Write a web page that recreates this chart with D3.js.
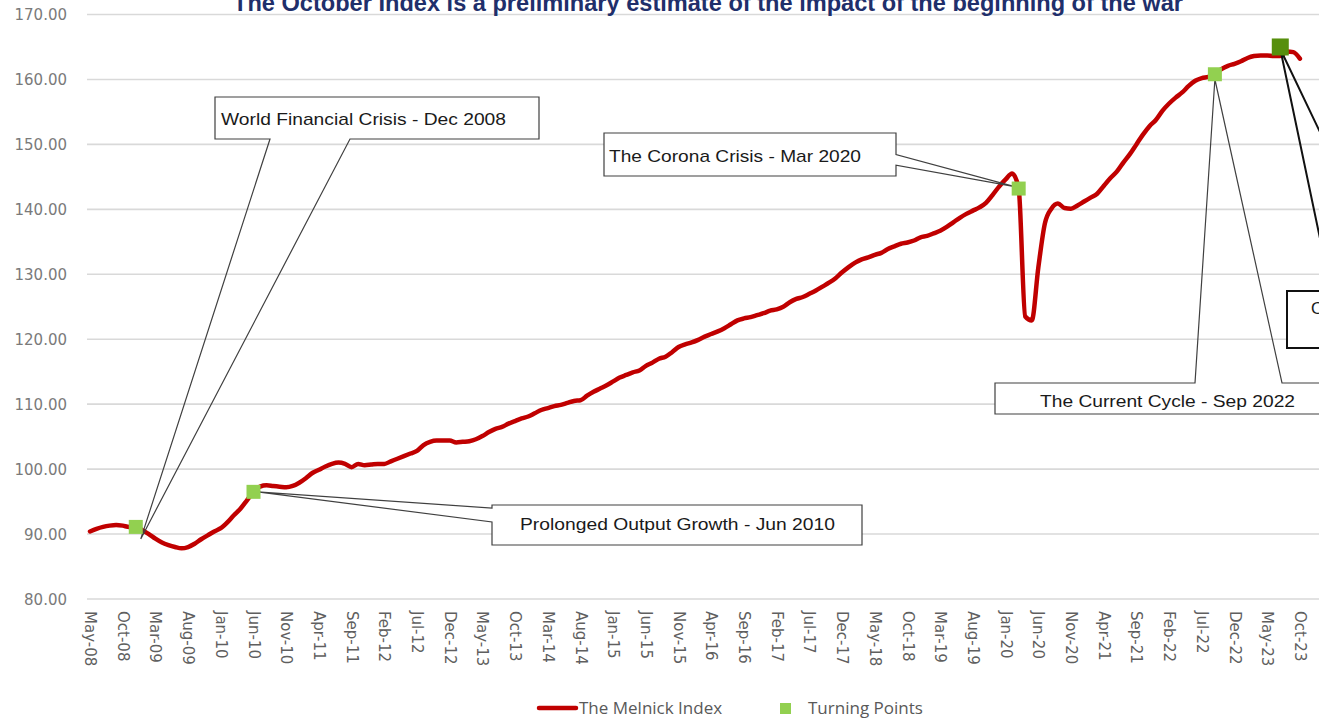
<!DOCTYPE html>
<html>
<head>
<meta charset="utf-8">
<script src="https://cdn.jsdelivr.net/npm/d3@7"></script>
<style>
  html, body { margin: 0; padding: 0; background: #ffffff; overflow: hidden; }
  svg { display: block; }
</style>
</head>
<body>
<svg id="chart" width="1319" height="720"></svg>
<script>
// ---------------- DATA ----------------
const titleText = "The October Index is a preliminary estimate of the impact of the beginning of the war";

// Monthly index values, May-08 ... Oct-23 (186 months)
const melnickIndex = [
  90.4, 90.8, 91.1, 91.3, 91.4, 91.3, 91.1, 91.1, 90.6, 90.0,
  89.3, 88.7, 88.3, 88.0, 87.8, 88.0, 88.5, 89.2, 89.8, 90.4,
  90.9, 91.8, 92.9, 93.9, 95.2, 96.5, 97.3, 97.5, 97.4, 97.3,
  97.2, 97.4, 97.9, 98.6, 99.4, 99.9, 100.4, 100.8, 101.0, 100.8,
  100.3, 100.8, 100.6, 100.7, 100.8, 100.8, 101.2, 101.6, 102.0, 102.4,
  102.8, 103.7, 104.2, 104.4, 104.4, 104.4, 104.1, 104.2, 104.3, 104.6,
  105.1, 105.7, 106.2, 106.5, 107.0, 107.4, 107.8, 108.1, 108.6, 109.1,
  109.4, 109.7, 109.9, 110.2, 110.5, 110.6, 111.3, 111.9, 112.4, 112.9,
  113.5, 114.1, 114.5, 114.9, 115.2, 115.9, 116.4, 117.0, 117.3, 118.0,
  118.8, 119.2, 119.5, 119.9, 120.4, 120.8, 121.2, 121.7, 122.3, 122.9,
  123.2, 123.4, 123.7, 124.0, 124.4, 124.6, 125.0, 125.7, 126.2, 126.5,
  127.0, 127.5, 128.1, 128.7, 129.4, 130.3, 131.1, 131.8, 132.3, 132.6,
  133.0, 133.3, 133.9, 134.3, 134.7, 134.9, 135.2, 135.7, 135.9, 136.3,
  136.7, 137.3, 138.0, 138.7, 139.3, 139.8, 140.3, 141.0, 142.2, 143.5,
  144.6, 145.5, 143.2, 123.5, 122.9, 131.0, 137.8, 140.1, 140.9, 140.2,
  140.1, 140.6, 141.2, 141.8, 142.4, 143.6, 144.8, 145.8, 147.2, 148.5,
  150.0, 151.5, 152.8, 153.8, 155.2, 156.3, 157.2, 158.0, 159.0, 159.8,
  160.2, 160.4, 160.8, 161.6, 162.1, 162.4, 162.8, 163.3, 163.6, 163.7,
  163.7, 163.6, 163.6, 164.3, 164.2, 163.2
];

// x tick labels, every 5 months
const tickLabels = [
  "May-08","Oct-08","Mar-09","Aug-09","Jan-10","Jun-10","Nov-10","Apr-11",
  "Sep-11","Feb-12","Jul-12","Dec-12","May-13","Oct-13","Mar-14","Aug-14",
  "Jan-15","Jun-15","Nov-15","Apr-16","Sep-16","Feb-17","Jul-17","Dec-17",
  "May-18","Oct-18","Mar-19","Aug-19","Jan-20","Jun-20","Nov-20","Apr-21",
  "Sep-21","Feb-22","Jul-22","Dec-22","May-23","Oct-23"
];
const tickStep = 5;

const yTicks = [80, 90, 100, 110, 120, 130, 140, 150, 160, 170];

// Turning points (month index from May-08, value)
const turningIdx = [7, 25, 142, 172];
const turningVal = [91.1, 96.5, 143.2, 160.8];

// October preliminary point
const octIdx = [182];
const octVal = [165.0];

// Callout texts
const calloutTexts = [
  "World Financial Crisis - Dec 2008",
  "Prolonged Output Growth - Jun 2010",
  "The Corona Crisis - Mar 2020",
  "The Current Cycle - Sep 2022",
  "October 2023 - War"
];

const legendLabels = ["The Melnick Index", "Turning Points"];

// ---------------- CHART ----------------
const svg = d3.select("#chart");
const W = 1319, H = 720;

const x = d3.scaleLinear().domain([0, melnickIndex.length - 1]).range([90, 90 + 6.54 * (melnickIndex.length - 1)]);
const y = d3.scaleLinear().domain([80, 170]).range([599, 14.5]);

// gridlines
svg.append("g")
  .selectAll("line")
  .data(yTicks)
  .join("line")
  .attr("x1", 87).attr("x2", W + 10)
  .attr("y1", d => y(d)).attr("y2", d => y(d))
  .attr("stroke", "#d9d9d9").attr("stroke-width", 1.6);

// y axis labels
const yAxis = d3.axisLeft(y).tickValues(yTicks).tickFormat(d3.format(".2f")).tickSize(0).tickPadding(0);
const yg = svg.append("g").attr("transform", "translate(67,0)").call(yAxis);
yg.select(".domain").remove();
yg.selectAll("text")
  .attr("font-family", "DejaVu Sans")
  .attr("font-size", 15)
  .attr("fill", "#7a7a7a")
  .attr("dy", "0.36em");

// x axis labels
const xAxis = d3.axisBottom(x)
  .tickValues(d3.range(0, melnickIndex.length, tickStep))
  .tickFormat((d, i) => tickLabels[i])
  .tickSize(0).tickPadding(0);
const xg = svg.append("g").attr("transform", "translate(0,611)").call(xAxis);
xg.select(".domain").remove();
xg.selectAll("text")
  .attr("font-family", "DejaVu Sans")
  .attr("font-size", 15)
  .attr("fill", "#5f5f5f")
  .attr("text-anchor", "start")
  .attr("transform", "rotate(90)")
  .attr("x", 0)
  .attr("y", 0)
  .attr("dy", "0.36em");

// title (cut off at the top edge, as in the reference)
svg.append("text")
  .attr("x", 708).attr("y", 11)
  .attr("text-anchor", "middle")
  .attr("font-family", "Liberation Sans")
  .attr("font-weight", "bold")
  .attr("font-size", 24)
  .attr("fill", "#1f2f6b")
  .attr("textLength", 950)
  .attr("lengthAdjust", "spacingAndGlyphs")
  .text(titleText);

// main line
const line = d3.line().x((d, i) => x(i)).y(d => y(d)).curve(d3.curveMonotoneX);
svg.append("path")
  .datum(melnickIndex)
  .attr("d", line)
  .attr("fill", "none")
  .attr("stroke", "#c00000")
  .attr("stroke-width", 4.5)
  .attr("stroke-linejoin", "round")
  .attr("stroke-linecap", "round");

// ---------------- CALLOUTS ----------------
function calloutPath(b, side, a1, a2, tip) {
  const L = b.x, R = b.x + b.w, T = b.y, B = b.y + b.h;
  const p = [];
  p.push([L, T]);
  if (side === "top") { p.push([a1, T], tip, [a2, T]); }
  p.push([R, T]);
  if (side === "right") { p.push([R, a1], tip, [R, a2]); }
  p.push([R, B]);
  if (side === "bottom") { p.push([a2, B], tip, [a1, B]); }
  p.push([L, B]);
  if (side === "left") { p.push([L, a2], tip, [L, a1]); }
  return "M" + p.map(q => q[0] + "," + q[1]).join("L") + "Z";
}

const callouts = [
  { box: {x: 215, y: 97, w: 324, h: 42}, side: "bottom", a1: 270, a2: 350,
    tip: [x(turningIdx[0]) + 5, y(turningVal[0]) + 12],
    text: calloutTexts[0], tx: 221, ty: 125, tl: 285, stroke: "#404040", sw: 1.2 },
  { box: {x: 492, y: 505, w: 370, h: 40}, side: "left", a1: 508, a2: 522,
    tip: [x(turningIdx[1]) + 4, y(turningVal[1])],
    text: calloutTexts[1], tx: 520, ty: 530, tl: 315, stroke: "#404040", sw: 1.2 },
  { box: {x: 604, y: 133, w: 292, h: 43}, side: "right", a1: 154.6, a2: 165.2,
    tip: [x(turningIdx[2]) - 4, y(turningVal[2]) - 2],
    text: calloutTexts[2], tx: 609, ty: 162, tl: 252, stroke: "#404040", sw: 1.2 },
  { box: {x: 995, y: 383, w: 360, h: 31}, side: "top", a1: 1195, a2: 1282,
    tip: [x(turningIdx[3]), y(turningVal[3]) + 5],
    text: calloutTexts[3], tx: 1040, ty: 407, tl: 255, stroke: "#404040", sw: 1.2 },
  { box: {x: 1287, y: 291, w: 250, h: 57}, side: "top", a1: 1331, a2: 1396,
    tip: [x(octIdx[0]), y(octVal[0]) + 2],
    text: calloutTexts[4], tx: 1311, ty: 314, tl: null, stroke: "#111111", sw: 2 }
];

const cg = svg.append("g");
callouts.forEach(c => {
  cg.append("rect")
    .attr("x", c.box.x).attr("y", c.box.y)
    .attr("width", c.box.w).attr("height", c.box.h)
    .attr("fill", "#ffffff");
  cg.append("path")
    .attr("d", calloutPath(c.box, c.side, c.a1, c.a2, c.tip))
    .attr("fill", "none")
    .attr("stroke", c.stroke)
    .attr("stroke-width", c.sw)
    .attr("stroke-linejoin", "miter");
  const t = cg.append("text")
    .attr("x", c.tx).attr("y", c.ty)
    .attr("font-family", "Liberation Sans")
    .attr("font-size", 17)
    .attr("fill", "#1a1a1a")
    .text(c.text);
  if (c.tl) t.attr("textLength", c.tl).attr("lengthAdjust", "spacingAndGlyphs");
});

// ---------------- MARKERS ----------------
const tp = turningIdx.map((d, i) => ({ i: d, v: turningVal[i] }));
svg.append("g")
  .selectAll("rect")
  .data(tp)
  .join("rect")
  .attr("x", d => x(d.i) - 7)
  .attr("y", d => y(d.v) - 7)
  .attr("width", 14).attr("height", 14)
  .attr("fill", "#92d050");

const op = octIdx.map((d, i) => ({ i: d, v: octVal[i] }));
svg.append("g")
  .selectAll("rect")
  .data(op)
  .join("rect")
  .attr("x", d => x(d.i) - 8.5)
  .attr("y", d => y(d.v) - 8.5)
  .attr("width", 17).attr("height", 17)
  .attr("fill", "#568f0c");

// ---------------- LEGEND ----------------
const lg = svg.append("g");
lg.append("line")
  .attr("x1", 539).attr("x2", 576).attr("y1", 708).attr("y2", 708)
  .attr("stroke", "#c00000").attr("stroke-width", 4.5).attr("stroke-linecap", "round");
lg.append("text")
  .attr("x", 579).attr("y", 714)
  .attr("font-family", "Open Sans").attr("font-size", 17).attr("fill", "#595959")
  .text(legendLabels[0]);
lg.append("rect")
  .attr("x", 780).attr("y", 703).attr("width", 11).attr("height", 11)
  .attr("fill", "#92d050");
lg.append("text")
  .attr("x", 808).attr("y", 714)
  .attr("font-family", "Open Sans").attr("font-size", 17).attr("fill", "#595959")
  .text(legendLabels[1]);
</script>
</body>
</html>
